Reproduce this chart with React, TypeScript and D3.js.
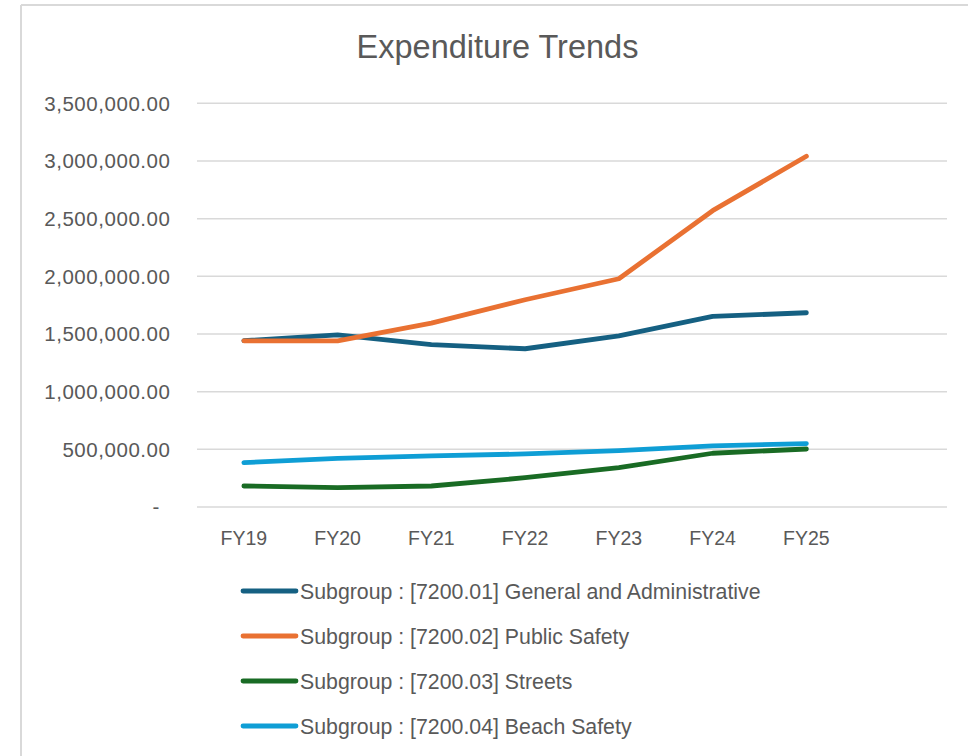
import React from "react";
import * as d3 from "d3";

const categories = ["FY19", "FY20", "FY21", "FY22", "FY23", "FY24", "FY25"];
const seriesNames = [
  "Subgroup : [7200.01] General and Administrative",
  "Subgroup : [7200.02] Public Safety",
  "Subgroup : [7200.03] Streets",
  "Subgroup : [7200.04] Beach Safety",
];
const generalAdmin = [1442000, 1492000, 1408000, 1372000, 1484000, 1652000, 1684000];
const publicSafety = [1441000, 1441000, 1594000, 1797000, 1979000, 2569000, 3041000];
const streets = [182000, 168000, 182000, 254000, 341000, 466000, 503000];
const beachSafety = [385000, 422000, 443000, 460000, 489000, 530000, 550000];
const yTicks = [0, 500000, 1000000, 1500000, 2000000, 2500000, 3000000, 3500000];
const colors = ["#156082", "#E97132", "#196B24", "#0F9ED5"];

const allSeries = [generalAdmin, publicSafety, streets, beachSafety];

export default function App() {
  const W = 968, H = 756;
  const left = 197, right = 947, top = 103.3, bottom = 507;
  const slots = 8; // category axis leaves one empty slot at the end
  const x = d3.scaleLinear().domain([-0.5, slots - 0.5]).range([left, right]);
  const y = d3.scaleLinear().domain([0, 3500000]).range([bottom, top]);
  const fmt = d3.format(",.2f");
  const line = d3
    .line<number>()
    .x((_, i) => x(i))
    .y((d) => y(d));
  const font = "'Liberation Sans', Arial, sans-serif";
  const textColor = "#595959";

  return (
    <svg
      width={W}
      height={H}
      style={{ position: "absolute", left: 0, top: 0, background: "#fff" }}
      fontFamily={font}
    >
      <rect x={0} y={0} width={W} height={H} fill="#fff" />
      <line x1={21} y1={5} x2={W} y2={5} stroke="#d9d9d9" strokeWidth={2} />
      <line x1={21} y1={5} x2={21} y2={H} stroke="#d9d9d9" strokeWidth={2} />

      <text x={497.5} y={58} textAnchor="middle" fontSize={32.5} fill={textColor}>
        Expenditure Trends
      </text>

      {yTicks.map((t) => (
        <g key={t}>
          <line x1={left} x2={right} y1={y(t)} y2={y(t)} stroke="#d9d9d9" strokeWidth={1.5} />
          <text
            x={t === 0 ? 160 : 170.5}
            y={y(t)}
            dy="0.36em"
            textAnchor="end"
            fontSize={20.5}
            letterSpacing={0.55}
            fill={textColor}
          >
            {t === 0 ? "-" : fmt(t)}
          </text>
        </g>
      ))}

      {categories.map((c, i) => (
        <text key={c} x={x(i)} y={538} dy="0.36em" textAnchor="middle" fontSize={19.5} fill={textColor}>
          {c}
        </text>
      ))}

      {allSeries.map((s, k) => (
        <path
          key={k}
          d={line(s) || ""}
          fill="none"
          stroke={colors[k]}
          strokeWidth={4.8}
          strokeLinecap="round"
          strokeLinejoin="round"
        />
      ))}

      {seriesNames.map((name, k) => {
        const ly = 591 + k * 45;
        return (
          <g key={name}>
            <line x1={243} x2={296} y1={ly} y2={ly} stroke={colors[k]} strokeWidth={4.8} strokeLinecap="round" />
            <text x={300} y={ly} dy="0.36em" fontSize={21.3} fill={textColor}>
              {name}
            </text>
          </g>
        );
      })}
    </svg>
  );
}
